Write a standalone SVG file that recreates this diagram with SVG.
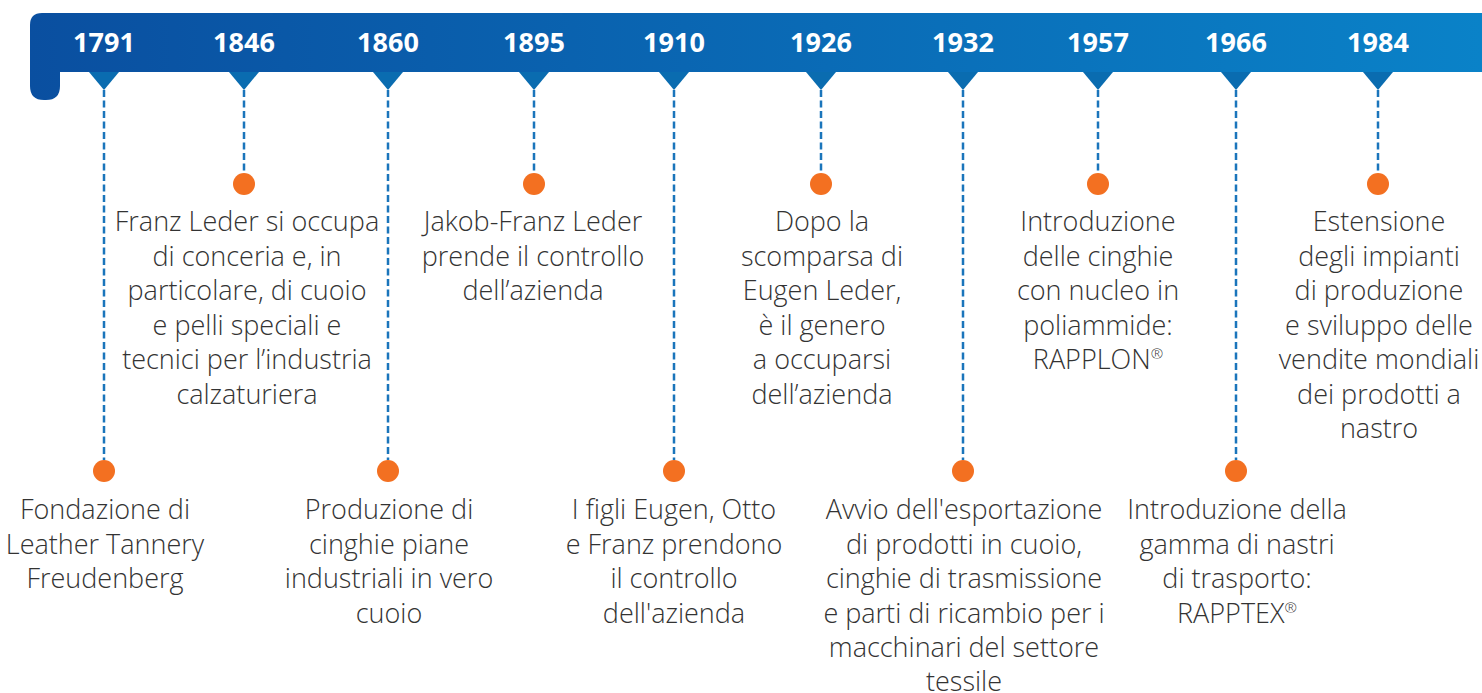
<svg xmlns="http://www.w3.org/2000/svg" width="1482" height="693" viewBox="0 0 1482 693">
<style>
.yr{font-family:"Open Sans","Liberation Sans",sans-serif;font-weight:700;font-size:27px;fill:#fff;text-anchor:middle}
.tx{font-family:"Open Sans","Liberation Sans",sans-serif;font-weight:300;font-size:27px;fill:#333;text-anchor:middle}
.tri{fill:#0a6cb0}
.dash{stroke:#1a75bb;stroke-width:2.5;stroke-dasharray:7 3.5;fill:none}
.dot{fill:#f37021}
.sup{font-size:15px}
</style>
<defs>
<linearGradient id="bar" x1="0" y1="0" x2="1" y2="0">
<stop offset="0" stop-color="#0a4fa0"/>
<stop offset="1" stop-color="#0a82c8"/>
</linearGradient>
</defs>
<g id="banner">
<path d="M30,25 Q30,13 42,13 H1482 V72 H60 V86 Q60,100 46,100 H44 Q30,100 30,86 Z" fill="url(#bar)"/>
</g>
<g id="connectors">
<line class="dash" x1="104" y1="90" x2="104" y2="460"/>
<line class="dash" x1="244" y1="90" x2="244" y2="173"/>
<line class="dash" x1="388" y1="90" x2="388" y2="460"/>
<line class="dash" x1="534" y1="90" x2="534" y2="173"/>
<line class="dash" x1="674" y1="90" x2="674" y2="460"/>
<line class="dash" x1="821" y1="90" x2="821" y2="173"/>
<line class="dash" x1="963" y1="90" x2="963" y2="460"/>
<line class="dash" x1="1098" y1="90" x2="1098" y2="173"/>
<line class="dash" x1="1236" y1="90" x2="1236" y2="460"/>
<line class="dash" x1="1378" y1="90" x2="1378" y2="173"/>
</g>
<g id="n1791">
<text class="yr" x="104" y="52">1791</text>
<path class="tri" d="M89,72 H119 L104,90 Z"/>
<circle class="dot" cx="104" cy="471" r="11"/>
<text class="tx" x="105"><tspan x="105" y="519">Fondazione di</tspan><tspan x="105" y="553.5">Leather Tannery</tspan><tspan x="105" y="588">Freudenberg</tspan></text>
</g>
<g id="n1846">
<text class="yr" x="244" y="52">1846</text>
<path class="tri" d="M229,72 H259 L244,90 Z"/>
<circle class="dot" cx="244" cy="184" r="11"/>
<text class="tx"><tspan x="247" y="231">Franz Leder si occupa</tspan><tspan x="247" y="265.5">di conceria e, in</tspan><tspan x="247" y="300">particolare, di cuoio</tspan><tspan x="247" y="334.5">e pelli speciali e</tspan><tspan x="247" y="369">tecnici per l’industria</tspan><tspan x="247" y="403.5">calzaturiera</tspan></text>
</g>
<g id="n1860">
<text class="yr" x="388" y="52">1860</text>
<path class="tri" d="M373,72 H403 L388,90 Z"/>
<circle class="dot" cx="388" cy="471" r="11"/>
<text class="tx"><tspan x="389" y="519">Produzione di</tspan><tspan x="389" y="553.5">cinghie piane</tspan><tspan x="389" y="588">industriali in vero</tspan><tspan x="389" y="622.5">cuoio</tspan></text>
</g>
<g id="n1895">
<text class="yr" x="534" y="52">1895</text>
<path class="tri" d="M519,72 H549 L534,90 Z"/>
<circle class="dot" cx="534" cy="184" r="11"/>
<text class="tx"><tspan x="533" y="231">Jakob-Franz Leder</tspan><tspan x="533" y="265.5">prende il controllo</tspan><tspan x="533" y="300">dell’azienda</tspan></text>
</g>
<g id="n1910">
<text class="yr" x="674" y="52">1910</text>
<path class="tri" d="M659,72 H689 L674,90 Z"/>
<circle class="dot" cx="674" cy="471" r="11"/>
<text class="tx"><tspan x="674" y="519">I figli Eugen, Otto</tspan><tspan x="674" y="553.5">e Franz prendono</tspan><tspan x="674" y="588">il controllo</tspan><tspan x="674" y="622.5">dell'azienda</tspan></text>
</g>
<g id="n1926">
<text class="yr" x="821" y="52">1926</text>
<path class="tri" d="M806,72 H836 L821,90 Z"/>
<circle class="dot" cx="821" cy="184" r="11"/>
<text class="tx"><tspan x="822" y="231">Dopo la</tspan><tspan x="822" y="265.5">scomparsa di</tspan><tspan x="822" y="300">Eugen Leder,</tspan><tspan x="822" y="334.5">è il genero</tspan><tspan x="822" y="369">a occuparsi</tspan><tspan x="822" y="403.5">dell’azienda</tspan></text>
</g>
<g id="n1932">
<text class="yr" x="963" y="52">1932</text>
<path class="tri" d="M948,72 H978 L963,90 Z"/>
<circle class="dot" cx="963" cy="471" r="11"/>
<text class="tx"><tspan x="964" y="519">Avvio dell'esportazione</tspan><tspan x="964" y="553.5">di prodotti in cuoio,</tspan><tspan x="964" y="588">cinghie di trasmissione</tspan><tspan x="964" y="622.5">e parti di ricambio per i</tspan><tspan x="964" y="657">macchinari del settore</tspan><tspan x="964" y="691">tessile</tspan></text>
</g>
<g id="n1957">
<text class="yr" x="1098" y="52">1957</text>
<path class="tri" d="M1083,72 H1113 L1098,90 Z"/>
<circle class="dot" cx="1098" cy="184" r="11"/>
<text class="tx"><tspan x="1098" y="231">Introduzione</tspan><tspan x="1098" y="265.5">delle cinghie</tspan><tspan x="1098" y="300">con nucleo in</tspan><tspan x="1098" y="334.5">poliammide:</tspan><tspan x="1098" y="369">RAPPLON<tspan class="sup" dy="-10">®</tspan></tspan></text>
</g>
<g id="n1966">
<text class="yr" x="1236" y="52">1966</text>
<path class="tri" d="M1221,72 H1251 L1236,90 Z"/>
<circle class="dot" cx="1236" cy="471" r="11"/>
<text class="tx"><tspan x="1237" y="519">Introduzione della</tspan><tspan x="1237" y="553.5">gamma di nastri</tspan><tspan x="1237" y="588">di trasporto:</tspan><tspan x="1237" y="622.5">RAPPTEX<tspan class="sup" dy="-10">®</tspan></tspan></text>
</g>
<g id="n1984">
<text class="yr" x="1378" y="52">1984</text>
<path class="tri" d="M1363,72 H1393 L1378,90 Z"/>
<circle class="dot" cx="1378" cy="184" r="11"/>
<text class="tx"><tspan x="1379" y="231">Estensione</tspan><tspan x="1379" y="265.5">degli impianti</tspan><tspan x="1379" y="300">di produzione</tspan><tspan x="1379" y="334.5">e sviluppo delle</tspan><tspan x="1379" y="369">vendite mondiali</tspan><tspan x="1379" y="403.5">dei prodotti a</tspan><tspan x="1379" y="438">nastro</tspan></text>
</g>
</svg>
